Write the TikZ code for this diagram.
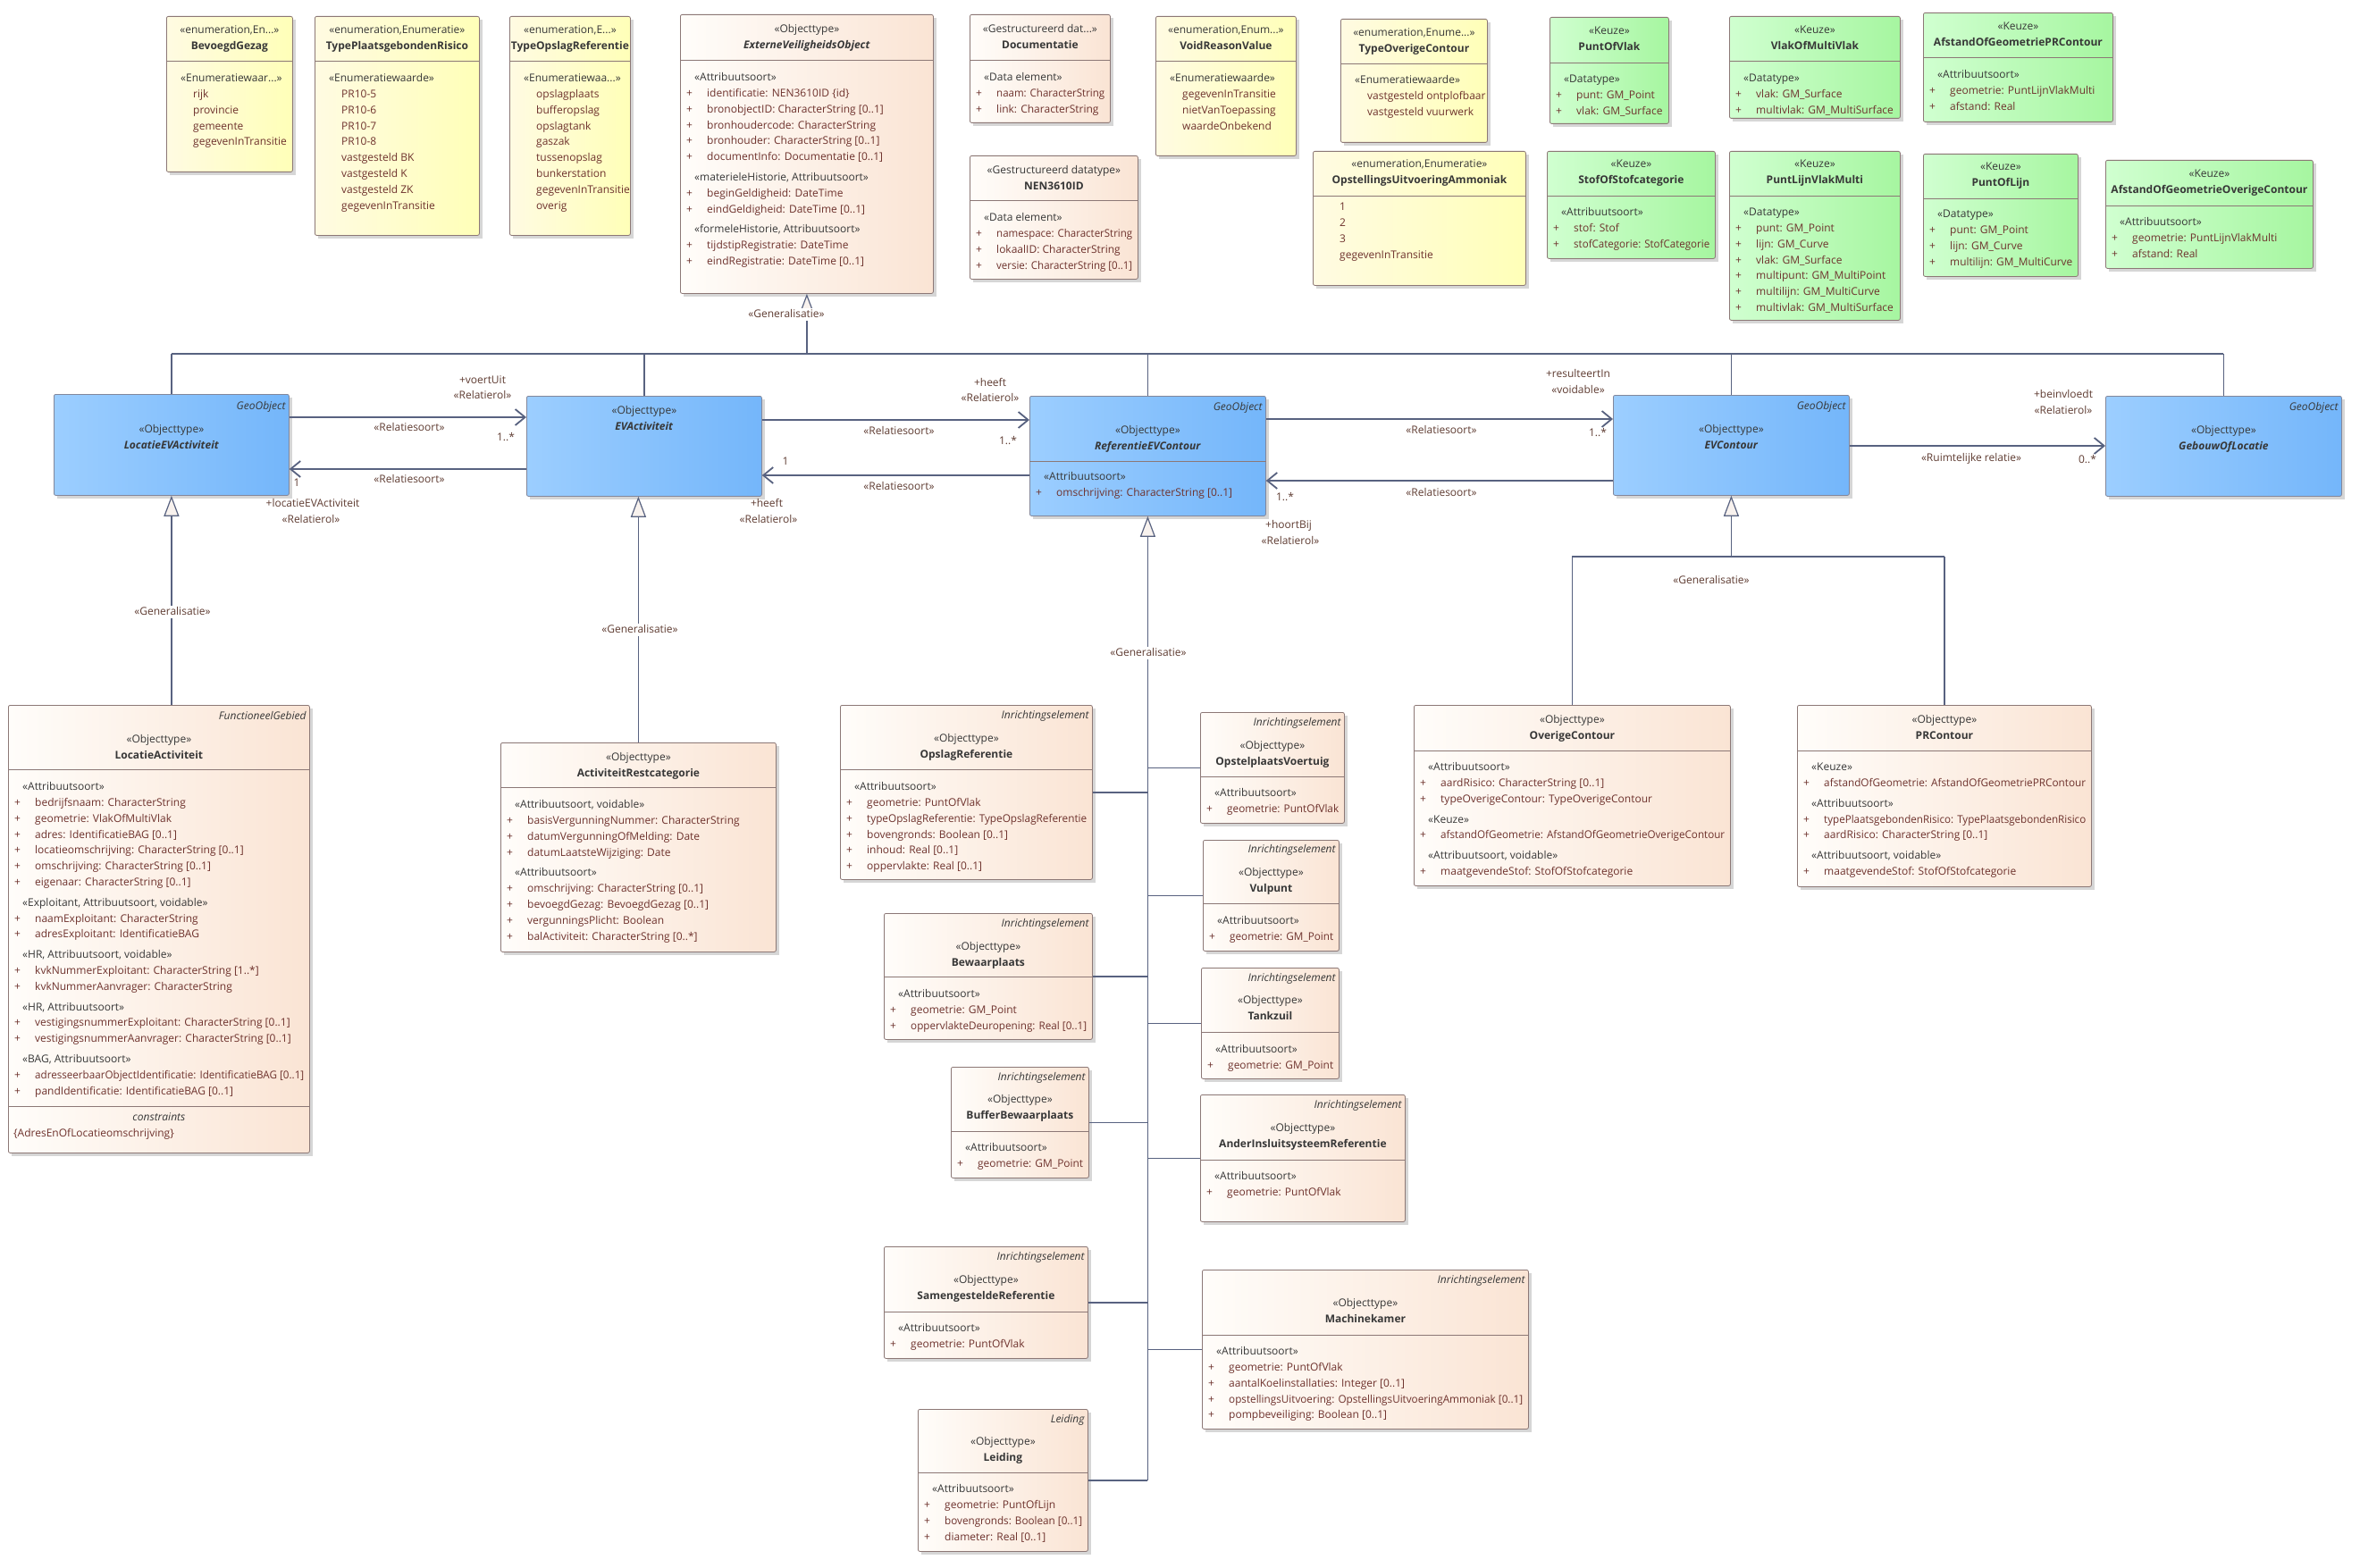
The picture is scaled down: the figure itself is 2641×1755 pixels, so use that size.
\documentclass[tikz,border=0pt]{standalone}
\usepackage{fontspec}
\setmainfont{Open Sans}
\usepackage{graphicx}
\usetikzlibrary{arrows.meta,calc}

\definecolor{peachL}{RGB}{255,253,250}
\definecolor{peachR}{RGB}{250,228,212}
\definecolor{yelL}{RGB}{255,251,226}
\definecolor{yelR}{RGB}{255,255,184}
\definecolor{grnL}{RGB}{208,255,208}
\definecolor{grnR}{RGB}{166,246,160}
\definecolor{bluL}{RGB}{156,206,255}
\definecolor{bluR}{RGB}{116,182,250}
\definecolor{bordc}{RGB}{140,120,118}
\definecolor{blubord}{RGB}{130,135,155}
\definecolor{shadc}{RGB}{214,214,214}
\definecolor{linec}{RGB}{88,98,128}
\definecolor{attrc}{RGB}{110,50,45}
\definecolor{stc}{RGB}{55,55,55}
\definecolor{lblc}{RGB}{95,60,50}
\definecolor{trifill}{RGB}{248,242,238}

\AtBeginDocument{\fontsize{12}{17.8}\selectfont}

\newlength{\attw}
\newlength{\fitl}
\newsavebox{\fitbox}
\newcommand{\fitw}[2]{\setlength{\fitl}{#1}\sbox{\fitbox}{#2}\ifdim\wd\fitbox>\fitl\resizebox{\fitl}{\height}{\usebox{\fitbox}}\else\usebox{\fitbox}\fi}
\newcommand{\uattr}[1]{\makebox[23pt][l]{\textcolor{attrc}{+}}\fitw{\attw}{\textcolor{attrc}{#1}}}
\newcommand{\uster}[1]{\hspace*{9pt}\fitw{\dimexpr\attw+14pt\relax}{\textcolor{stc}{«#1»}}}
\newcommand{\ulit}[1]{\hspace*{23pt}\textcolor{attrc}{#1}}

\tikzset{
  ubase/.style={draw=bordc, line width=0.8pt, rounded corners=2pt, inner sep=0pt},
  peach/.style={ubase, left color=peachL, right color=peachR},
  yel/.style={ubase, left color=yelL, right color=yelR},
  grn/.style={ubase, left color=grnL, right color=grnR},
  blu/.style={ubase, draw=blubord, left color=bluL, right color=bluR},
  hdr/.style={align=center, inner sep=0pt, text=stc},
  tagst/.style={inner sep=0pt, text height=8.5pt, text depth=1.5pt, text=stc, font=\itshape},
  lbl/.style={inner sep=1pt, text height=8.5pt, text depth=1.5pt, text=lblc},
  genlbl/.style={lbl, fill=white, inner sep=2pt},
  bodyst/.style={align=left, inner sep=0pt},
  assoc/.style={draw=linec, line width=1.8pt, -{Straight Barb[length=11pt,width=18pt]}},
  gen/.style={draw=linec, line width=1.2pt},
  genarr/.style={gen, -{Triangle[length=23pt,width=17pt,fill=trifill]}},
}

\newcommand{\ubox}[7]{%
  \fill[shadc] (#2+4,#3+4) rectangle (#4+4,#5+4);
  \node[#6, anchor=north west, minimum width={(#4-#2)*1pt}, minimum height={(#5-#3)*1pt}] (#1) at (#2,#3) {};
  \pgfmathsetlength{\attw}{(#4-#2-36)*1pt}%
  \def\tmpdiv{#7}\ifx\tmpdiv\empty\else\draw[bordc, line width=0.8pt] (#1.west |- 0,#7) -- (#1.east |- 0,#7);\fi
}
\newcommand{\uhead}[4]{\node[hdr, anchor=north] (#1-h) at (#1.north |- 0,#2-8.5) {\rule{0pt}{12pt}«#3»\\\textbf{#4}};}
\newcommand{\utag}[3]{\node[tagst, anchor=east] (#1-g) at ($(#1.east |- 0,#2)+(-4,0)$) {#3};}
\newcommand{\ubody}[3]{\node[bodyst, anchor=north west] (#1-b) at ($(#1.west |- 0,#2-8.5)+(7,0)$) {\rule{0pt}{12pt}#3};}

\begin{document}
\begin{tikzpicture}[x=1pt,y=-1pt]
\fill[white] (0,0) rectangle (2641,1755);
\useasboundingbox (0,0) rectangle (2641,1755);

% ---------------- top row ----------------
\ubox{bg}{186}{18}{327}{192}{yel}{68}
\uhead{bg}{34}{enumeration,En...}{BevoegdGezag}
\ubody{bg}{88}{\uster{Enumeratiewaar...}\\\ulit{rijk}\\\ulit{provincie}\\\ulit{gemeente}\\\ulit{gegevenInTransitie}}

\ubox{tpr}{352}{18}{536}{263}{yel}{68}
\uhead{tpr}{34}{enumeration,Enumeratie}{TypePlaatsgebondenRisico}
\ubody{tpr}{88}{\uster{Enumeratiewaarde}\\\ulit{PR10-5}\\\ulit{PR10-6}\\\ulit{PR10-7}\\\ulit{PR10-8}\\\ulit{vastgesteld BK}\\\ulit{vastgesteld K}\\\ulit{vastgesteld ZK}\\\ulit{gegevenInTransitie}}

\ubox{tor}{570}{18}{705}{263}{yel}{68}
\uhead{tor}{34}{enumeration,E...}{TypeOpslagReferentie}
\ubody{tor}{88}{\uster{Enumeratiewaa...}\\\ulit{opslagplaats}\\\ulit{bufferopslag}\\\ulit{opslagtank}\\\ulit{gaszak}\\\ulit{tussenopslag}\\\ulit{bunkerstation}\\\ulit{gegevenInTransitie}\\\ulit{overig}}

\ubox{evo}{761}{16}{1044}{328}{peach}{67}
\uhead{evo}{33}{Objecttype}{\textit{ExterneVeiligheidsObject}}
\ubody{evo}{87}{\uster{Attribuutsoort}\\\uattr{identificatie: NEN3610ID \{id\}}\\\uattr{bronobjectID: CharacterString [0..1]}\\\uattr{bronhoudercode: CharacterString}\\\uattr{bronhouder: CharacterString [0..1]}\\\uattr{documentInfo: Documentatie [0..1]}\\[5pt]\uster{materieleHistorie, Attribuutsoort}\\\uattr{beginGeldigheid: DateTime}\\\uattr{eindGeldigheid: DateTime [0..1]}\\[5pt]\uster{formeleHistorie, Attribuutsoort}\\\uattr{tijdstipRegistratie: DateTime}\\\uattr{eindRegistratie: DateTime [0..1]}}

\ubox{doc}{1085}{16}{1242}{137}{peach}{67}
\uhead{doc}{33}{Gestructureerd dat...}{Documentatie}
\ubody{doc}{87}{\uster{Data element}\\\uattr{naam: CharacterString}\\\uattr{link: CharacterString}}

\ubox{nen}{1085}{174}{1273}{312}{peach}{224}
\uhead{nen}{191}{Gestructureerd datatype}{NEN3610ID}
\ubody{nen}{244}{\uster{Data element}\\\uattr{namespace: CharacterString}\\\uattr{lokaalID: CharacterString}\\\uattr{versie: CharacterString [0..1]}}

\ubox{vrv}{1293}{18}{1450}{174}{yel}{68}
\uhead{vrv}{34}{enumeration,Enum...}{VoidReasonValue}
\ubody{vrv}{88}{\uster{Enumeratiewaarde}\\\ulit{gegevenInTransitie}\\\ulit{nietVanToepassing}\\\ulit{waardeOnbekend}}

\ubox{toc}{1500}{21}{1664}{159}{yel}{71}
\uhead{toc}{37}{enumeration,Enume...}{TypeOverigeContour}
\ubody{toc}{90}{\uster{Enumeratiewaarde}\\\ulit{vastgesteld ontplofbaar}\\\ulit{vastgesteld vuurwerk}}

\ubox{oua}{1469}{169}{1707}{319}{yel}{219}
\uhead{oua}{184}{enumeration,Enumeratie}{OpstellingsUitvoeringAmmoniak}
\ubody{oua}{232}{\ulit{1}\\\ulit{2}\\\ulit{3}\\\ulit{gegevenInTransitie}}

\ubox{pov}{1734}{19}{1867}{138}{grn}{70}
\uhead{pov}{35}{Keuze}{PuntOfVlak}
\ubody{pov}{89}{\uster{Datatype}\\\uattr{punt: GM\_Point}\\\uattr{vlak: GM\_Surface}}

\ubox{sos}{1731}{169}{1919}{289}{grn}{219}
\uhead{sos}{184}{Keuze}{StofOfStofcategorie}
\ubody{sos}{238}{\uster{Attribuutsoort}\\\uattr{stof: Stof}\\\uattr{stofCategorie: StofCategorie}}

\ubox{vmv}{1935}{18}{2126}{132}{grn}{68}
\uhead{vmv}{34}{Keuze}{VlakOfMultiVlak}
\ubody{vmv}{88}{\uster{Datatype}\\\uattr{vlak: GM\_Surface}\\\uattr{multivlak: GM\_MultiSurface}}

\ubox{agp}{2152}{14}{2364}{136}{grn}{64}
\uhead{agp}{30}{Keuze}{AfstandOfGeometriePRContour}
\ubody{agp}{84}{\uster{Attribuutsoort}\\\uattr{geometrie: PuntLijnVlakMulti}\\\uattr{afstand: Real}}

\ubox{plv}{1935}{169}{2126}{358}{grn}{219}
\uhead{plv}{184}{Keuze}{PuntLijnVlakMulti}
\ubody{plv}{238}{\uster{Datatype}\\\uattr{punt: GM\_Point}\\\uattr{lijn: GM\_Curve}\\\uattr{vlak: GM\_Surface}\\\uattr{multipunt: GM\_MultiPoint}\\\uattr{multilijn: GM\_MultiCurve}\\\uattr{multivlak: GM\_MultiSurface}}

\ubox{pol}{2152}{172}{2325}{309}{grn}{222}
\uhead{pol}{187}{Keuze}{PuntOfLijn}
\ubody{pol}{240}{\uster{Datatype}\\\uattr{punt: GM\_Point}\\\uattr{lijn: GM\_Curve}\\\uattr{multilijn: GM\_MultiCurve}}

\ubox{ago}{2356}{179}{2588}{300}{grn}{230}
\uhead{ago}{195}{Keuze}{AfstandOfGeometrieOverigeContour}
\ubody{ago}{249}{\uster{Attribuutsoort}\\\uattr{geometrie: PuntLijnVlakMulti}\\\uattr{afstand: Real}}

% ---------------- middle row (blue) ----------------
\ubox{lea}{60}{441}{323}{554}{blu}{}
\utag{lea}{455}{GeoObject}
\uhead{lea}{481}{Objecttype}{\textit{LocatieEVActiviteit}}

\ubox{eva}{589}{443}{852}{555}{blu}{}
\uhead{eva}{460}{Objecttype}{\textit{EVActiviteit}}

\ubox{rec}{1152}{443}{1416}{577}{blu}{516}
\utag{rec}{456}{GeoObject}
\uhead{rec}{482}{Objecttype}{\textit{ReferentieEVContour}}
\ubody{rec}{534}{\uster{Attribuutsoort}\\\uattr{omschrijving: CharacterString [0..1]}}

\ubox{evc}{1805}{442}{2069}{554}{blu}{}
\utag{evc}{455}{GeoObject}
\uhead{evc}{481}{Objecttype}{\textit{EVContour}}

\ubox{gol}{2356}{443}{2620}{555}{blu}{}
\utag{gol}{456}{GeoObject}
\uhead{gol}{482}{Objecttype}{\textit{GebouwOfLocatie}}

% ---------------- lower boxes ----------------
\ubox{la}{9}{789}{346}{1290}{peach}{861}
\draw[bordc, line width=0.8pt] (la.west |- 0,1238) -- (la.east |- 0,1238);
\utag{la}{802}{FunctioneelGebied}
\uhead{la}{828}{Objecttype}{LocatieActiviteit}
\ubody{la}{881}{\uster{Attribuutsoort}\\\uattr{bedrijfsnaam: CharacterString}\\\uattr{geometrie: VlakOfMultiVlak}\\\uattr{adres: IdentificatieBAG [0..1]}\\\uattr{locatieomschrijving: CharacterString [0..1]}\\\uattr{omschrijving: CharacterString [0..1]}\\\uattr{eigenaar: CharacterString [0..1]}\\[5pt]\uster{Exploitant, Attribuutsoort, voidable}\\\uattr{naamExploitant: CharacterString}\\\uattr{adresExploitant: IdentificatieBAG}\\[5pt]\uster{HR, Attribuutsoort, voidable}\\\uattr{kvkNummerExploitant: CharacterString [1..*]}\\\uattr{kvkNummerAanvrager: CharacterString}\\[5pt]\uster{HR, Attribuutsoort}\\\uattr{vestigingsnummerExploitant: CharacterString [0..1]}\\\uattr{vestigingsnummerAanvrager: CharacterString [0..1]}\\[5pt]\uster{BAG, Attribuutsoort}\\\uattr{adresseerbaarObjectIdentificatie: IdentificatieBAG [0..1]}\\\uattr{pandIdentificatie: IdentificatieBAG [0..1]}}
\node[tagst] (la-c) at (la.north |- 0,1251) {constraints};
\node[lbl, anchor=west, text=attrc, inner sep=0pt] (la-k) at ($(la.west |- 0,1269)+(6,0)$) {\{AdresEnOfLocatieomschrijving\}};

\ubox{arc}{560}{831}{868}{1065}{peach}{881}
\uhead{arc}{848}{Objecttype}{ActiviteitRestcategorie}
\ubody{arc}{901}{\uster{Attribuutsoort, voidable}\\\uattr{basisVergunningNummer: CharacterString}\\\uattr{datumVergunningOfMelding: Date}\\\uattr{datumLaatsteWijziging: Date}\\[5pt]\uster{Attribuutsoort}\\\uattr{omschrijving: CharacterString [0..1]}\\\uattr{bevoegdGezag: BevoegdGezag [0..1]}\\\uattr{vergunningsPlicht: Boolean}\\\uattr{balActiviteit: CharacterString [0..*]}}

\ubox{opr}{940}{789}{1222}{984}{peach}{861}
\utag{opr}{801}{Inrichtingselement}
\uhead{opr}{827}{Objecttype}{OpslagReferentie}
\ubody{opr}{881}{\uster{Attribuutsoort}\\\uattr{geometrie: PuntOfVlak}\\\uattr{typeOpslagReferentie: TypeOpslagReferentie}\\\uattr{bovengronds: Boolean [0..1]}\\\uattr{inhoud: Real [0..1]}\\\uattr{oppervlakte: Real [0..1]}}

\ubox{opv}{1343}{797}{1504}{921}{peach}{869}
\utag{opv}{809}{Inrichtingselement}
\uhead{opv}{835}{Objecttype}{OpstelplaatsVoertuig}
\ubody{opv}{888}{\uster{Attribuutsoort}\\\uattr{geometrie: PuntOfVlak}}

\ubox{vul}{1346}{940}{1498}{1064}{peach}{1011}
\utag{vul}{951}{Inrichtingselement}
\uhead{vul}{977}{Objecttype}{Vulpunt}
\ubody{vul}{1031}{\uster{Attribuutsoort}\\\uattr{geometrie: GM\_Point}}

\ubox{bew}{989}{1022}{1222}{1163}{peach}{1093}
\utag{bew}{1034}{Inrichtingselement}
\uhead{bew}{1060}{Objecttype}{Bewaarplaats}
\ubody{bew}{1113}{\uster{Attribuutsoort}\\\uattr{geometrie: GM\_Point}\\\uattr{oppervlakteDeuropening: Real [0..1]}}

\ubox{tank}{1344}{1083}{1498}{1207}{peach}{1155}
\utag{tank}{1095}{Inrichtingselement}
\uhead{tank}{1120}{Objecttype}{Tankzuil}
\ubody{tank}{1175}{\uster{Attribuutsoort}\\\uattr{geometrie: GM\_Point}}

\ubox{buf}{1064}{1194}{1218}{1318}{peach}{1266}
\utag{buf}{1206}{Inrichtingselement}
\uhead{buf}{1231}{Objecttype}{BufferBewaarplaats}
\ubody{buf}{1285}{\uster{Attribuutsoort}\\\uattr{geometrie: GM\_Point}}

\ubox{air}{1343}{1225}{1572}{1367}{peach}{1298}
\utag{air}{1237}{Inrichtingselement}
\uhead{air}{1263}{Objecttype}{AnderInsluitsysteemReferentie}
\ubody{air}{1317}{\uster{Attribuutsoort}\\\uattr{geometrie: PuntOfVlak}}

\ubox{sam}{989}{1395}{1217}{1520}{peach}{1468}
\utag{sam}{1407}{Inrichtingselement}
\uhead{sam}{1433}{Objecttype}{SamengesteldeReferentie}
\ubody{sam}{1487}{\uster{Attribuutsoort}\\\uattr{geometrie: PuntOfVlak}}

\ubox{mk}{1345}{1421}{1710}{1599}{peach}{1494}
\utag{mk}{1433}{Inrichtingselement}
\uhead{mk}{1459}{Objecttype}{Machinekamer}
\ubody{mk}{1513}{\uster{Attribuutsoort}\\\uattr{geometrie: PuntOfVlak}\\\uattr{aantalKoelinstallaties: Integer [0..1]}\\\uattr{opstellingsUitvoering: OpstellingsUitvoeringAmmoniak [0..1]}\\\uattr{pompbeveiliging: Boolean [0..1]}}

\ubox{lei}{1027}{1577}{1217}{1736}{peach}{1648}
\utag{lei}{1589}{Leiding}
\uhead{lei}{1614}{Objecttype}{Leiding}
\ubody{lei}{1667}{\uster{Attribuutsoort}\\\uattr{geometrie: PuntOfLijn}\\\uattr{bovengronds: Boolean [0..1]}\\\uattr{diameter: Real [0..1]}}

\ubox{oc}{1582}{789}{1936}{991}{peach}{840}
\uhead{oc}{806}{Objecttype}{OverigeContour}
\ubody{oc}{859}{\uster{Attribuutsoort}\\\uattr{aardRisico: CharacterString [0..1]}\\\uattr{typeOverigeContour: TypeOverigeContour}\\[5pt]\uster{Keuze}\\\uattr{afstandOfGeometrie: AfstandOfGeometrieOverigeContour}\\[5pt]\uster{Attribuutsoort, voidable}\\\uattr{maatgevendeStof: StofOfStofcategorie}}

\ubox{prc}{2011}{789}{2340}{992}{peach}{840}
\uhead{prc}{806}{Objecttype}{PRContour}
\ubody{prc}{859}{\uster{Keuze}\\\uattr{afstandOfGeometrie: AfstandOfGeometriePRContour}\\[5pt]\uster{Attribuutsoort}\\\uattr{typePlaatsgebondenRisico: TypePlaatsgebondenRisico}\\\uattr{aardRisico: CharacterString [0..1]}\\[5pt]\uster{Attribuutsoort, voidable}\\\uattr{maatgevendeStof: StofOfStofcategorie}}

% ---------------- generalisations ----------------
\coordinate (bus) at (902,396);
\draw[gen, line width=2pt] (lea.north |- bus) -- (gol.north |- bus);
\draw[gen] (lea.north |- bus) -- (lea.north);
\draw[gen] (eva.north |- bus) -- (eva.north);
\draw[gen] (rec.north |- bus) -- (rec.north);
\draw[gen] (evc.north |- bus) -- (evc.north);
\draw[gen] (gol.north |- bus) -- (gol.north);
\draw[genarr] (evo.south |- bus) -- (evo.south);
\node[genlbl] (g0) at (880,352) {«Generalisatie»};

\draw[genarr] (la.north -| lea.south) -- (lea.south);
\node[genlbl] (g1) at (193,685) {«Generalisatie»};

\draw[genarr] (arc.north) -- (arc.north |- eva.south);
\node[genlbl] (g2) at (716,705) {«Generalisatie»};

\draw[genarr] (lei.east -| rec.south) -- (rec.south);
\node[genlbl] (g3) at (1285,731) {«Generalisatie»};
\draw[gen] (opr.east) -- (opr.east -| rec.south);
\draw[gen] (opv.west) -- (opv.west -| rec.south);
\draw[gen] (vul.west) -- (vul.west -| rec.south);
\draw[gen] (bew.east) -- (bew.east -| rec.south);
\draw[gen] (tank.west) -- (tank.west -| rec.south);
\draw[gen] (buf.east) -- (buf.east -| rec.south);
\draw[gen] (air.west) -- (air.west -| rec.south);
\draw[gen] (sam.east) -- (sam.east -| rec.south);
\draw[gen] (mk.west) -- (mk.west -| rec.south);
\draw[gen] (lei.east) -- (lei.east -| rec.south);

\coordinate (ebus) at (1936,623);
\draw[gen, line width=2pt] (oc.north |- ebus) -- (prc.north |- ebus);
\draw[gen] (oc.north |- ebus) -- (oc.north);
\draw[gen] (prc.north |- ebus) -- (prc.north);
\draw[genarr] (evc.south |- ebus) -- (evc.south);
\node[lbl] (g4) at (1915,650) {«Generalisatie»};

% ---------------- associations ----------------
\draw[assoc] (lea.east |- 0,467) -- (eva.west |- 0,467);
\draw[assoc] (eva.west |- 0,525) -- (lea.east |- 0,525);
\draw[assoc] (eva.east |- 0,470) -- (rec.west |- 0,470);
\draw[assoc] (rec.west |- 0,532) -- (eva.east |- 0,532);
\draw[assoc] (rec.east |- 0,469) -- (evc.west |- 0,469);
\draw[assoc] (evc.west |- 0,538) -- (rec.east |- 0,538);
\draw[assoc] (evc.east |- 0,499) -- (gol.west |- 0,499);

\node[lbl] (r1) at (540,426) {+voertUit};
\node[lbl] (r2) at (540,443) {«Relatierol»};
\node[lbl] (r3) at (458,479) {«Relatiesoort»};
\node[lbl] (r4) at (566,490) {1..*};
\node[lbl] (r5) at (458,537) {«Relatiesoort»};
\node[lbl] (r6) at (332,541) {1};
\node[lbl] (r7) at (350,564) {+locatieEVActiviteit};
\node[lbl] (r8) at (348,582) {«Relatierol»};
\node[lbl] (r9) at (1108,429) {+heeft};
\node[lbl] (r10) at (1108,446) {«Relatierol»};
\node[lbl] (r11) at (1006,483) {«Relatiesoort»};
\node[lbl] (r12) at (1128,494) {1..*};
\node[lbl] (r13) at (879,517) {1};
\node[lbl] (r14) at (1006,545) {«Relatiesoort»};
\node[lbl] (r15) at (858,564) {+heeft};
\node[lbl] (r16) at (860,582) {«Relatierol»};
\node[lbl] (r17) at (1766,419) {+resulteertIn};
\node[lbl] (r18) at (1766,437) {«voidable»};
\node[lbl] (r19) at (1613,482) {«Relatiesoort»};
\node[lbl] (r20) at (1788,485) {1..*};
\node[lbl] (r21) at (1613,552) {«Relatiesoort»};
\node[lbl] (r22) at (1438,557) {1..*};
\node[lbl] (r23) at (1442,588) {+hoortBij};
\node[lbl] (r24) at (1444,606) {«Relatierol»};
\node[lbl] (r25) at (2309,442) {+beinvloedt};
\node[lbl] (r26) at (2309,460) {«Relatierol»};
\node[lbl] (r27) at (2206,513) {«Ruimtelijke relatie»};
\node[lbl] (r28) at (2336,515) {0..*};
\end{tikzpicture}
\end{document}
